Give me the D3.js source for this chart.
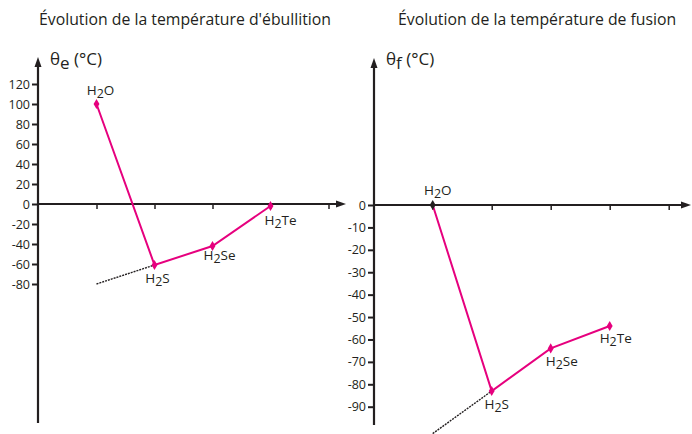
<!DOCTYPE html>
<html><head><meta charset="utf-8">
<script src="https://cdn.jsdelivr.net/npm/d3@7"></script>
<style>body{margin:0;background:#fff}svg{display:block}text{font-family:"Open Sans",sans-serif;fill:#231f20}</style>
</head><body>
<script>
const compounds = ["H2O","H2S","H2Se","H2Te"];
const ebullition = [100, -61, -42, -2];
const fusion = [0, -83, -64, -54];
const extrapE = [-80, -61];   // dotted extrapolation H2O -> H2S
const extrapF = [-102, -83];
const ticksE = [120,100,80,60,40,20,0,-20,-40,-60,-80];
const ticksF = [0,-10,-20,-30,-40,-50,-60,-70,-80,-90];
const xTicks = [0,1,2,3,4];
const titles = ["Évolution de la température d'ébullition","Évolution de la température de fusion"];
const axisSub = ["e","f"];

const W=692,H=434, pink="#e6007e", ink="#231f20";
const svg=d3.select("body").append("svg").attr("width",W).attr("height",H);

const panels=[
 {title:titles[0],tx:39,sub:axisSub[0],vals:ebullition,ext:extrapE,ticks:ticksE,
  x:d3.scaleLinear().domain([0,4]).range([96.5,328.5]),
  y:d3.scaleLinear().domain([0,100]).range([204,104]),
  ax:38, axTop:57, axBot:423, xEnd:346, h2oDark:false,
  lab:[[4,-9],[3,18],[7,14],[10,19]]},
 {title:titles[1],tx:398,sub:axisSub[1],vals:fusion,ext:extrapF,ticks:ticksF,
  x:d3.scaleLinear().domain([0,4]).range([432.7,668.7]),
  y:d3.scaleLinear().domain([0,-90]).range([205,406.7]),
  ax:374, axTop:58, axBot:425, xEnd:691, h2oDark:true,
  lab:[[5,-10],[5,18],[11,18],[6,17]]}
];

function chem(sel,name){
  const m=name.match(/^H2(.*)$/);
  sel.append("tspan").text("H");
  sel.append("tspan").attr("dy",3).attr("font-size","0.92em").text("2");
  sel.append("tspan").attr("dy",-3).text(m[1]);
}

panels.forEach(p=>{
  const g=svg.append("g");
  g.append("text").attr("x",p.tx).attr("y",25).attr("font-size",15.8).text(p.title);
  // axis label
  const t=g.append("text").attr("x",p.ax+12).attr("y",65).attr("font-size",17);
  t.append("tspan").text("θ");
  t.append("tspan").attr("dy",4).text(p.sub);
  t.append("tspan").attr("dy",-4).text(" (°C)");
  // y axis
  const ya=g.append("g").attr("transform",`translate(${p.ax},0)`)
    .call(d3.axisLeft(p.y).tickValues(p.ticks).tickSize(6).tickPadding(2).tickFormat(d=>String(d)));
  ya.select(".domain").remove();
  ya.selectAll(".tick line").attr("stroke",ink).attr("stroke-width",2);
  ya.selectAll(".tick text").attr("font-size",12.5).attr("fill",ink).style("font-family","Open Sans");
  g.append("line").attr("x1",p.ax).attr("x2",p.ax).attr("y1",p.axTop+8).attr("y2",p.axBot).attr("stroke",ink).attr("stroke-width",2.2);
  g.append("path").attr("d",`M${p.ax},${p.axTop} L${p.ax-3.5},${p.axTop+10} L${p.ax+3.5},${p.axTop+10}Z`).attr("fill",ink);
  // x axis
  const y0=p.y(0);
  const xa=g.append("g").attr("transform",`translate(0,${y0})`)
    .call(d3.axisBottom(p.x).tickValues(xTicks).tickSize(5).tickFormat(""));
  xa.select(".domain").remove();
  xa.selectAll(".tick line").attr("stroke",ink).attr("stroke-width",1.5);
  g.append("line").attr("x1",p.ax).attr("x2",p.xEnd-8).attr("y1",y0).attr("y2",y0).attr("stroke",ink).attr("stroke-width",2.2);
  g.append("path").attr("d",`M${p.xEnd},${y0} L${p.xEnd-10},${y0-3.5} L${p.xEnd-10},${y0+3.5}Z`).attr("fill",ink);
  // extrapolation
  g.append("path").datum(p.ext).attr("fill","none").attr("stroke",ink).attr("stroke-width",1.4)
    .attr("stroke-dasharray","2,1")
    .attr("d",d3.line().x((d,i)=>p.x(i)).y(d=>p.y(d)));
  // series
  g.append("path").datum(p.vals).attr("fill","none").attr("stroke",pink).attr("stroke-width",2)
    .attr("d",d3.line().x((d,i)=>p.x(i)).y(d=>p.y(d)));
  g.selectAll(".pt").data(p.vals).enter().append("path")
    .attr("d",d3.symbol(d3.symbolDiamond,30)())
    .attr("transform",(d,i)=>`translate(${p.x(i)},${p.y(d)})`)
    .attr("fill",(d,i)=>(i===0&&p.h2oDark)?ink:pink);
  g.selectAll(".lab").data(p.vals).enter().append("text")
    .attr("x",(d,i)=>p.x(i)+p.lab[i][0]).attr("y",(d,i)=>p.y(d)+p.lab[i][1])
    .attr("text-anchor","middle").attr("font-size",13.5)
    .each(function(d,i){chem(d3.select(this),compounds[i]);});
});
</script>
</body></html>
